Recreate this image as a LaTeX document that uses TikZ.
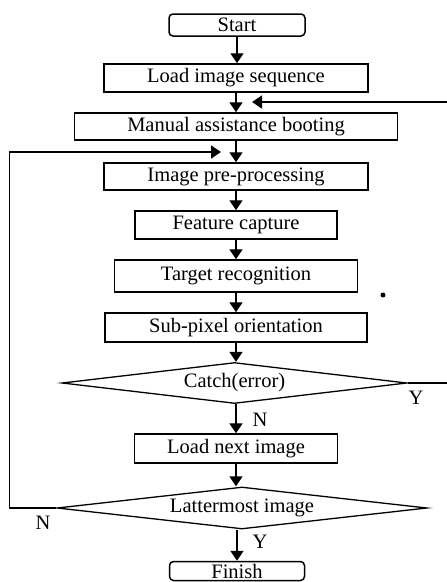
\documentclass[tikz,border=0pt]{standalone}
\usepackage{fontspec}
\setmainfont{Liberation Serif}
\usetikzlibrary{shapes.geometric,arrows.meta}
\tikzset{
  txt/.style={font=\fontsize{20.5}{22}\selectfont},
  box/.style={draw, line width=1.5pt, inner sep=0pt, minimum width=#1, txt},
  term/.style={box=#1, rounded corners=4pt},
  dec/.style={draw, diamond, line width=1.3pt, inner sep=0pt, aspect=8.6, txt},
  arr/.style={line width=1.4pt, -{Triangle[length=10pt,width=13pt]}},
  lbl/.style={inner sep=0pt, txt}
}
\begin{document}
\begin{tikzpicture}[x=1pt,y=-1pt]
\useasboundingbox (0,0) rectangle (447,582);
\node[term=136pt, minimum height=22pt] (start) at (237,25) {Start};
\node[box=264pt, minimum height=28pt] (load) at (236,78) {Load image sequence};
\node[box=323pt, minimum height=27pt] (manual) at (236,126.5) {Manual assistance booting};
\node[box=264pt, minimum height=27pt] (pre) at (236,176.5) {Image pre-processing};
\node[box=202pt, minimum height=28pt] (feat) at (236,225) {Feature capture};
\node[box=243pt, minimum height=32pt] (targ) at (236,276) {Target recognition};
\node[box=262pt, minimum height=29pt] (sub) at (236,327.5) {Sub-pixel orientation};
\node[dec, minimum width=345pt, minimum height=41pt] (catch) at (234.5,383) {Catch(error)};
\node[box=203pt, minimum height=29pt] (next) at (236,448.5) {Load next image};
\node[dec, minimum width=370pt, minimum height=42pt] (latter) at (242,508) {Lattermost image};
\node[term=135pt, minimum height=19pt] (finish) at (237,571) {Finish};

\draw[arr] (start.south) -- (start.south |- load.north);
\draw[arr] (load) -- (manual);
\draw[arr] (manual) -- (pre);
\draw[arr] (pre) -- (feat);
\draw[arr] (feat) -- (targ);
\draw[arr] (targ) -- (sub);
\draw[arr] (sub.south) -- (sub.south |- catch.north);
\draw[arr] (next.north |- catch.south) -- (next.north);
\draw[arr] (next.south) -- (next.south |- latter.north);
\draw[arr] (finish.north |- latter.south) -- (finish.north);

\coordinate (rtip) at (252,102);
\coordinate (ltip) at (221,152);
\draw[arr] (catch.east) -- ++(42,0) |- (rtip);
\draw[arr] (latter.west) -- ++(-47,0) |- (ltip);

\node[lbl] (ncatch) at (260,420) {N};
\node[lbl] (ycatch) at (416,398) {Y};
\node[lbl] (nlatter) at (43,523) {N};
\node[lbl] (ylatter) at (260,542) {Y};
\fill (383,295) circle (2.5pt);
\end{tikzpicture}
\end{document}
